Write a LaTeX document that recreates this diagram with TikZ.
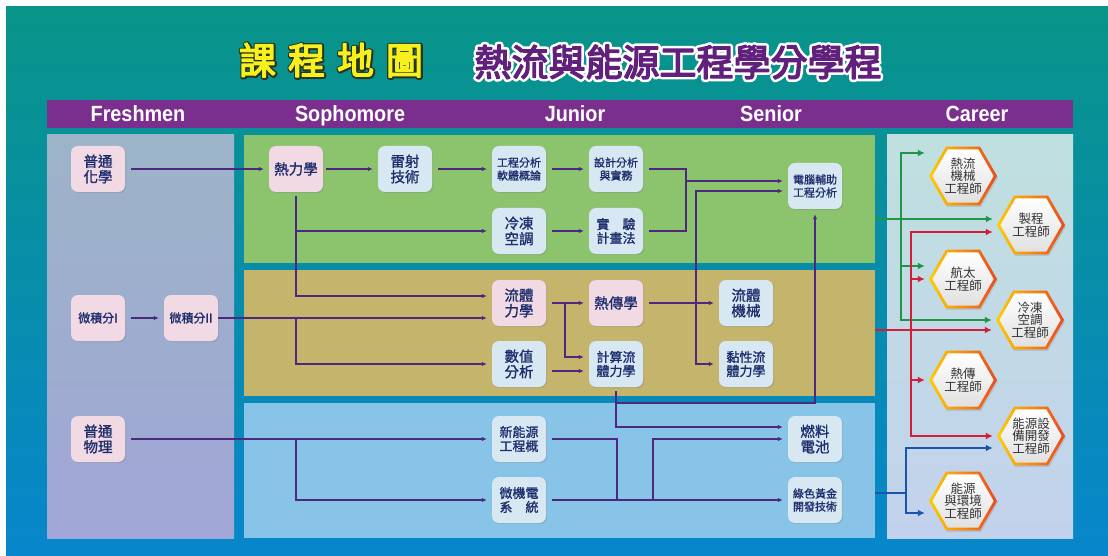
\documentclass[tikz,border=0pt]{standalone}
\usepackage{fontspec}
\setmainfont{Liberation Sans}
\newfontfamily\cjk{Noto Sans CJK TC}
\newfontfamily\cjkbold{Noto Sans CJK TC}[FakeBold=1.2]
\newfontfamily\headfont{Liberation Sans}[FakeStretch=0.9]
\usetikzlibrary{shapes.geometric,arrows.meta,shadows}
\definecolor{bgtop}{RGB}{8,148,136}
\definecolor{bgbot}{RGB}{8,134,204}
\definecolor{barpurple}{RGB}{122,46,142}
\definecolor{freshtop}{RGB}{156,180,200}
\definecolor{freshbot}{RGB}{160,166,214}
\definecolor{sophgreen}{RGB}{140,196,110}
\definecolor{junolive}{RGB}{196,180,108}
\definecolor{senblue}{RGB}{136,196,232}
\definecolor{cartop}{RGB}{192,224,224}
\definecolor{carbot}{RGB}{194,210,236}
\definecolor{corepink}{RGB}{242,218,228}
\definecolor{electblue}{RGB}{216,232,242}
\definecolor{inknavy}{RGB}{28,44,108}
\definecolor{wirepurple}{RGB}{78,40,128}
\definecolor{jobgreen}{RGB}{30,150,70}
\definecolor{jobred}{RGB}{210,30,55}
\definecolor{jobblue}{RGB}{25,85,175}
\definecolor{hexyellow}{RGB}{255,205,0}
\definecolor{hexorange}{RGB}{238,72,28}
\definecolor{titleyellow}{RGB}{245,240,30}
\definecolor{titledark}{RGB}{40,52,30}
\definecolor{titlepurple}{RGB}{96,32,124}
% text stroke on / off (fill + stroke)
\newcommand{\strokeon}[1]{\special{pdf:literal direct 2 Tr #1 w 1 j 1 J}}
\newcommand{\strokeoff}{\special{pdf:literal direct 0 Tr}}
\tikzset{
  course/.style={rounded corners=7pt,minimum width=54pt,minimum height=46pt,inner sep=0pt,
    align=center,text=inknavy,drop shadow={shadow xshift=1.2pt,shadow yshift=-1.2pt,opacity=.3}},
  core/.style={course,fill=corepink},
  elect/.style={course,fill=electblue},
  big/.style={font=\cjkbold\fontsize{14.5}{15.5}\selectfont},
  mid/.style={font=\cjkbold\fontsize{13}{14}\selectfont},
  calc/.style={font=\cjkbold\fontsize{12}{14}\selectfont},
  small/.style={font=\cjkbold\fontsize{11}{13}\selectfont},
  wire/.style={draw=wirepurple,line width=1.5pt},
  link/.style={wire,-{Latex[length=5pt,width=4.5pt]},shorten >=5pt},
  jobarrow/.style={line width=2.4pt,-{Latex[length=7pt,width=7pt]},shorten >=4pt},
  hexring/.style={regular polygon,regular polygon sides=6,minimum size=68pt,inner sep=0pt,
    left color=hexyellow,right color=hexorange,
    drop shadow={shadow xshift=1pt,shadow yshift=-1.5pt,opacity=.25}},
  hexcore/.style={regular polygon,regular polygon sides=6,minimum size=51pt,inner sep=0pt,
    top color=white,bottom color=black!12,align=center,text=black!80,
    font=\cjk\fontsize{12.5}{12.5}\selectfont},
  headtext/.style={anchor=base,text=white,font=\headfont\bfseries\fontsize{22}{24}\selectfont},
  titlefont/.style={font=\cjk\fontsize{37}{40}\selectfont},
}
\newcommand{\jobhex}[3]{%
  \node[hexring] (#1) at (#2) {};
  \node[hexcore] (#1-in) at (#1) {#3};
}
\begin{document}
\begin{tikzpicture}[x=1pt,y=-1pt]
  \useasboundingbox (0,0) rectangle (1108,556);
  \fill[white] (0,0) rectangle (1108,556);
  \shade[top color=bgtop,bottom color=bgbot] (6,7) rectangle (1108,556);
  % titles
  \node[titlefont,text=titledark] (mapoutline) at (331.5,60.5)
    {\strokeon{4.5}課\kern12pt程\kern12pt地\kern12pt圖\strokeoff};
  \node[titlefont,text=titleyellow] (maptitle) at (331,60)
    {\strokeon{1.4}課\kern12pt程\kern12pt地\kern12pt圖\strokeoff};
  \node[titlefont,text=white] (progoutline) at (678,62)
    {\strokeon{6.5}熱流與能源工程學分學程\strokeoff};
  \node[titlefont,text=titlepurple] (progtitle) at (678,62)
    {\strokeon{1.4}熱流與能源工程學分學程\strokeoff};
  % header bar
  \fill[barpurple] (47,100) rectangle (1073,128);
  \node[headtext] (fresh) at (138,122) {Freshmen};
  \node[headtext] (soph) at (350,122) {Sophomore};
  \node[headtext] (jun) at (575,122) {Junior};
  \node[headtext] (sen) at (771,122) {Senior};
  \node[headtext] (car) at (977,122) {Career};
  % panels
  \shade[top color=freshtop,bottom color=freshbot] (47,135) rectangle (234,538);
  \fill[sophgreen] (244,135) rectangle (875,263);
  \fill[junolive] (244,270) rectangle (875,396);
  \fill[senblue] (244,403) rectangle (875,538);
  \shade[top color=cartop,bottom color=carbot] (887,135) rectangle (1073,538);
  % courses
  \node[core,big] (chem) at (98,169) {普通\\化學};
  \node[core,big] (thermo) at (296,169) {熱力學};
  \node[elect,big] (laser) at (405,169) {雷射\\技術};
  \node[elect,small] (software) at (519,169) {工程分析\\軟體概論};
  \node[elect,small] (design) at (616,169) {設計分析\\與實務};
  \node[elect,big] (hvac) at (519,231) {冷凍\\空調};
  \node[elect,mid] (expt) at (616,231) {實\hspace{13pt}驗\\計畫法};
  \node[elect,small] (cae) at (815,186) {電腦輔助\\工程分析};
  \node[core,calc] (calc1) at (98,318) {微積分I};
  \node[core,calc] (calc2) at (191,318) {微積分II};
  \node[core,big] (fluid) at (519,303) {流體\\力學};
  \node[core,big] (heat) at (616,303) {熱傳學};
  \node[elect,big] (fmach) at (746,303) {流體\\機械};
  \node[elect,big] (numer) at (519,364) {數值\\分析};
  \node[elect,mid] (cfd) at (616,364) {計算流\\體力學};
  \node[elect,mid] (visc) at (746,364) {黏性流\\體力學};
  \node[core,big] (phys) at (98,439) {普通\\物理};
  \node[elect,mid] (renew) at (519,439) {新能源\\工程概};
  \node[elect,mid] (mems) at (519,500) {微機電\\系\hspace{13pt}統};
  \node[elect,big] (fuel) at (815,439) {燃料\\電池};
  \node[elect,small] (green) at (815,500) {綠色黃金\\開發技術};
  % junctions
  \coordinate (calcj) at (296,318);
  \coordinate (dj) at (686,181);
  \coordinate (hj) at (696,303);
  \coordinate (fj) at (565,303);
  \coordinate (cj) at (616,403);
  \coordinate (pj) at (296,439);
  \coordinate (mj) at (617,500);
  \coordinate (ej) at (653,500);
  % prerequisites
  \draw[link,shorten <=6pt] (chem) -- (thermo);
  \draw[link,shorten <=3pt] (thermo) -- (laser);
  \draw[link,shorten <=6pt] (laser) -- (software);
  \draw[link,shorten <=6pt] (software) -- (design);
  \draw[link,shorten <=4pt] (thermo.south) |- (hvac);
  \draw[link,shorten <=4pt] (thermo.south) |- ([yshift=7pt]fluid.west);
  \draw[link,shorten <=6pt] (calc1) -- (calc2);
  \draw[link] (calc2.east) -- ([yshift=-15pt]fluid.west);
  \draw[link] (calcj) |- (numer);
  \draw[link,shorten <=6pt] (hvac) -- (expt);
  \draw[wire,shorten <=6pt] (design.east) -| (dj);
  \draw[wire,shorten <=6pt] (expt.east) -| (dj);
  \draw[link] (dj) -- ([yshift=5pt]cae.west);
  \draw[link,shorten <=6pt] (heat) -- (fmach);
  \draw[link] (hj) |- ([yshift=-5pt]cae.west);
  \draw[link] (hj) |- (visc);
  \draw[link,shorten <=6pt] (fluid) -- (heat);
  \draw[link] (fj) |- ([yshift=7pt]cfd.west);
  \draw[link,shorten <=6pt] ([yshift=-7pt]numer.east) -- ([yshift=-7pt]cfd.west);
  \draw[link,shorten <=4pt] (cfd.south) |- ([yshift=12pt]fuel.west);
  \draw[link] (cj) -| (cae.south);
  \draw[link,shorten <=6pt] (phys) -- (renew);
  \draw[link] (pj) |- (mems);
  \draw[wire,shorten <=6pt] (renew.east) -| (mj);
  \draw[link,shorten <=6pt] (mems) -- (green);
  \draw[link] (ej) |- (fuel);
  % careers
  \jobhex{fluidjob}{963,176}{熱流\\機械\\工程師}
  \jobhex{process}{1031,225}{製程\\工程師}
  \jobhex{aero}{963,279}{航太\\工程師}
  \jobhex{cold}{1030,320}{冷凍\\空調\\工程師}
  \jobhex{heatjob}{963,380}{熱傳\\工程師}
  \jobhex{energydev}{1031,436}{能源設\\備開發\\工程師}
  \jobhex{envjob}{963,501}{能源\\與環境\\工程師}
  \coordinate (gin) at (875,219);
  \coordinate (gj) at (901,219);
  \coordinate (rin) at (875,330);
  \coordinate (rj) at (911,330);
  \coordinate (bin) at (875,493);
  \coordinate (bj) at (906,493);
  \draw[jobarrow,jobgreen] (gin) -- (process.west |- gin);
  \draw[jobarrow,jobgreen] (gj) |- ([yshift=23pt]fluidjob.west);
  \draw[jobarrow,jobgreen] (gj) |- ([yshift=13pt]aero.west);
  \draw[jobarrow,jobgreen] (gj) |- (cold.west);
  \draw[jobarrow,jobred] (rin) -- ([yshift=-10pt]cold.west);
  \draw[jobarrow,jobred] (rj) |- ([yshift=-7pt]process.west);
  \draw[jobarrow,jobred] (rj) |- (aero.west);
  \draw[jobarrow,jobred] (rj) |- (heatjob.west);
  \draw[jobarrow,jobred] (rj) |- (energydev.west);
  \draw[jobarrow,jobblue] (bin) -- (bj) |- ([yshift=-12pt]energydev.west);
  \draw[jobarrow,jobblue] (bj) |- ([yshift=-12pt]envjob.west);
\end{tikzpicture}
\end{document}
